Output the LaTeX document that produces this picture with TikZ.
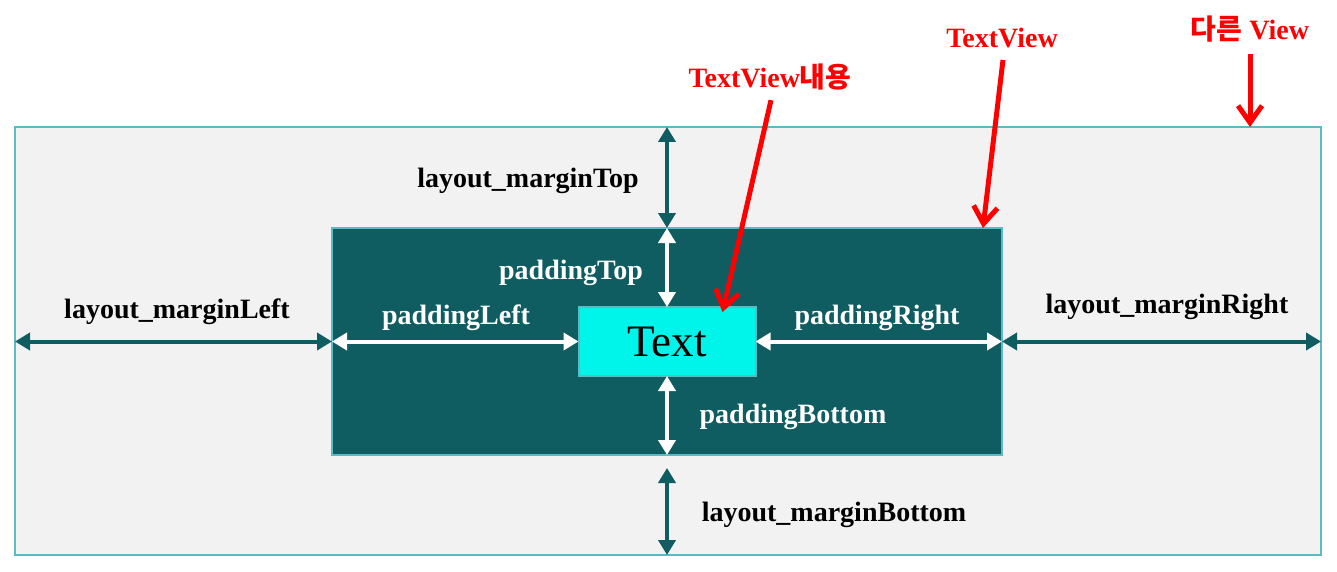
\documentclass[tikz,border=0pt]{standalone}
\usepackage{fontspec}
\setmainfont{Liberation Serif}
\newfontfamily\kor{Noto Sans CJK KR}
\usepackage{tikz}
\usetikzlibrary{positioning,arrows.meta,calc}

\definecolor{darkteal}{HTML}{0F5C61}
\definecolor{edgeteal}{HTML}{5BBAC4}
\definecolor{pagegray}{HTML}{F2F2F2}
\definecolor{textcyan}{HTML}{00F5EA}

\begin{document}
\begin{tikzpicture}[
            x=1pt, y=-1pt,
            outer sep=0pt,
            box/.style={
                draw=edgeteal, line width=2pt, inner sep=0pt, anchor=center
            },
            margin/.style={
                {Triangle[length=15pt,width=17pt]}-{Triangle[length=15pt,width=17pt]}, draw=darkteal, line width=4pt
            },
            padding/.style={
                {Triangle[length=15pt,width=17pt]}-{Triangle[length=15pt,width=17pt]}, draw=white, line width=4pt
            },
            lbl/.style={
                font=\fontsize{28}{32}\selectfont\bfseries, text=black, inner sep=0pt
            },
            note/.style={
                font=\fontsize{28}{32}\selectfont\bfseries, text=red, inner sep=0pt
            },
            pointer/.style={
                -{Straight Barb[length=17pt,width=24pt]}, draw=red, line width=5pt
            }
        ]
            \useasboundingbox (0,0) rectangle (1337,572);

            % BOXES
            \node[box, fill=pagegray, minimum width=1306pt, minimum height=428pt] (other) at (668,341) {};
            \node[box, fill=darkteal, minimum width=670pt, minimum height=227pt] (tv) at (667,341.5) {};
            \node[box, fill=textcyan, minimum width=177pt, minimum height=69pt,
                  font=\fontsize{45}{50}\selectfont] (txt) at (667,341.5) {Text};

            % --- MARGIN / PADDING ARROWS ---
            \draw[margin] (tv.north |- other.north) -- (tv.north);
            \draw[padding] (tv.north) -- (txt.north);
            \draw[padding] (txt.south) -- (tv.south);
            \draw[margin] ([yshift=-13pt]tv.south) -- (tv.south |- other.south);

            \draw[margin] (other.west |- tv.west) -- (tv.west);
            \draw[padding] (tv.west) -- (txt.west);
            \draw[padding] (txt.east) -- (tv.east);
            \draw[margin] (tv.east) -- (tv.east -| other.east);

            % LABELS
            \node[lbl] (mtop) at (528,181) {layout\_marginTop};
            \node[lbl, text=white] (ptop) at (571,273) {paddingTop};
            \node[lbl] (mleft) at (177,312) {layout\_marginLeft};
            \node[lbl, text=white] (pleft) at (456,318) {paddingLeft};
            \node[lbl, text=white] (pright) at (877,318) {paddingRight};
            \node[lbl] (mright) at (1167,307) {layout\_marginRight};
            \node[lbl, text=white] (pbottom) at (793,417) {paddingBottom};
            \node[lbl] (mbottom) at (834,515) {layout\_marginBottom};

            % --- RED NOTES ---
            \node[note] (ncontent) at (770,77) {TextView{\kor\bfseries 내용}};
            \node[note] (nview) at (1002,38) {TextView};
            \node[note] (nother) at (1250,29) {{\kor\bfseries 다른} View};

            \draw[pointer] ([xshift=1pt,yshift=-10pt]ncontent.south) -- ([xshift=-33pt,yshift=-5pt]txt.north east);
            \draw[pointer] ([xshift=1pt,yshift=-12pt]nview.south) -- ([xshift=-19pt]tv.north east);
            \draw[pointer] ([yshift=-12pt]nother.south) -- ([xshift=-71pt]other.north east);

        \end{tikzpicture}
\end{document}
